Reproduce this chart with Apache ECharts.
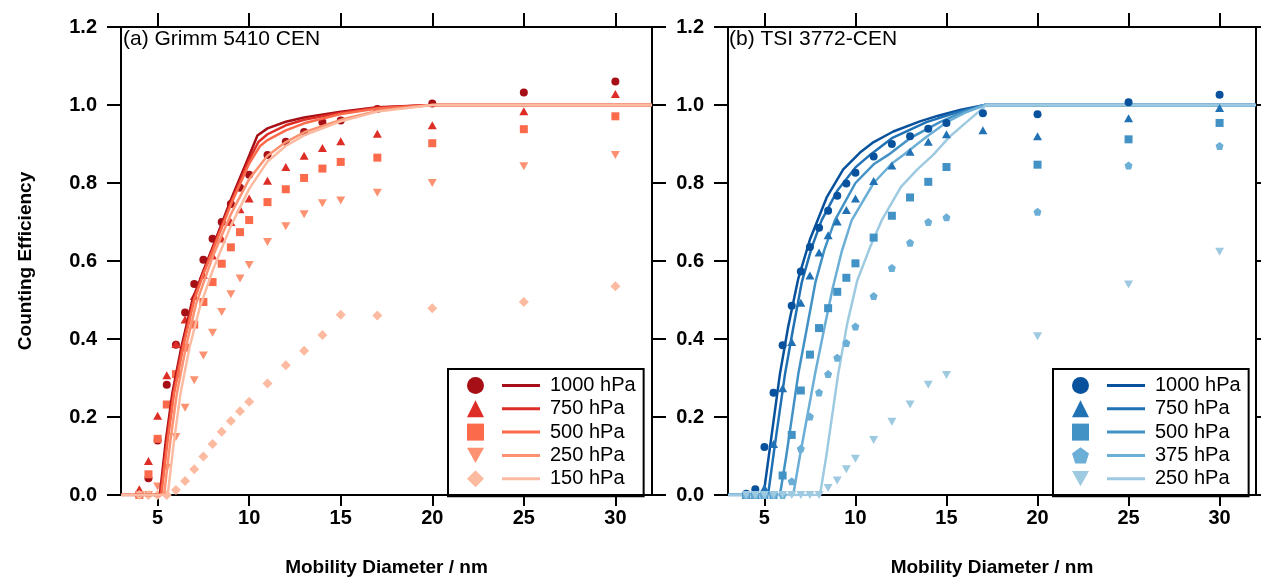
<!DOCTYPE html>
<html>
<head>
<meta charset="utf-8">
<script src="https://cdn.jsdelivr.net/npm/echarts@6/dist/echarts.min.js"></script>
<style>
html, body { margin: 0; padding: 0; background: #fff; }
#chart { width: 1261px; height: 582px; }
</style>
</head>
<body>
<div id="chart"></div>
<script>
// measured diameters (nm), same list in both panels
var diam = [4, 4.5, 5, 5.5, 6, 6.5, 7, 7.5, 8, 8.5, 9, 9.5, 10, 11, 12, 13, 14, 15, 17, 20, 25, 30];
var xTicks = [5, 10, 15, 20, 25, 30];

// (a) Grimm 5410 CEN, measured efficiencies
var a1000 = [0, 0.043, 0.14, 0.283, 0.385, 0.468, 0.541, 0.603, 0.657, 0.70, 0.746, 0.788, 0.821, 0.872, 0.906, 0.931, 0.956, 0.96, 0.99, 1.004, 1.032, 1.06];
var a750 = [0.015, 0.087, 0.203, 0.307, 0.387, 0.45, 0.51, 0.565, 0.614, 0.658, 0.70, 0.733, 0.76, 0.806, 0.841, 0.87, 0.89, 0.907, 0.926, 0.948, 0.984, 1.028];
var a500 = [0, 0.053, 0.144, 0.232, 0.31, 0.378, 0.437, 0.495, 0.546, 0.593, 0.635, 0.674, 0.705, 0.751, 0.784, 0.813, 0.837, 0.854, 0.865, 0.902, 0.938, 0.971];
var a250 = [0, 0, 0.022, 0.07, 0.149, 0.224, 0.294, 0.358, 0.416, 0.469, 0.515, 0.555, 0.59, 0.649, 0.689, 0.72, 0.748, 0.755, 0.775, 0.80, 0.843, 0.872];
var a150 = [0, 0, 0, 0, 0.013, 0.036, 0.066, 0.099, 0.131, 0.162, 0.19, 0.215, 0.239, 0.286, 0.333, 0.37, 0.41, 0.462, 0.46, 0.479, 0.495, 0.535];

// (b) TSI 3772-CEN, measured efficiencies (null = not measured)
var b1000 = [0.003, 0.015, 0.123, 0.262, 0.384, 0.485, 0.573, 0.636, 0.685, 0.729, 0.767, 0.799, 0.826, 0.868, 0.90, 0.92, 0.939, 0.954, 0.979, 0.976, 1.007, 1.026];
var b750 = [0, 0, 0.018, 0.131, 0.274, 0.392, 0.493, 0.563, 0.622, 0.666, 0.701, 0.731, 0.76, 0.805, 0.845, 0.88, 0.906, 0.925, 0.935, 0.92, 0.966, 0.992];
var b500 = [0, 0, 0, 0, 0.05, 0.154, 0.268, 0.36, 0.428, 0.479, 0.521, 0.557, 0.594, 0.66, 0.716, 0.763, 0.803, 0.841, null, 0.847, 0.912, 0.954];
var b375 = [0, 0, 0, 0, 0, 0.035, 0.119, 0.201, 0.263, 0.31, 0.352, 0.39, 0.432, 0.51, 0.582, 0.647, 0.70, 0.712, null, 0.726, 0.845, 0.895];
var b250 = [0, 0, 0, 0, 0, 0, 0, 0, 0, 0.018, 0.037, 0.066, 0.093, 0.141, 0.188, 0.232, 0.283, 0.308, null, 0.407, 0.54, 0.624];

// fitted curves
var fA1000x = [3, 5.12, 5.45, 5.8, 6.3, 6.9, 7.5, 8, 9, 10, 10.45, 11, 12, 13, 15, 17, 20, 32];
var fA1000y = [0, 0, 0.14, 0.26, 0.38, 0.5, 0.575, 0.635, 0.757, 0.87, 0.922, 0.94, 0.957, 0.968, 0.983, 0.994, 1, 1];
var fA750x = [3, 5.15, 5.5, 5.85, 6.35, 6.95, 7.5, 8, 9, 10, 10.5, 11, 12, 13, 15, 17, 20, 32];
var fA750y = [0, 0, 0.14, 0.26, 0.38, 0.5, 0.57, 0.63, 0.75, 0.86, 0.905, 0.925, 0.948, 0.962, 0.98, 0.993, 1, 1];
var fA500x = [3, 5.2, 5.55, 5.9, 6.4, 7, 7.5, 8, 9, 10, 10.6, 11, 12, 13, 15, 17, 20, 32];
var fA500y = [0, 0, 0.14, 0.26, 0.38, 0.5, 0.567, 0.625, 0.745, 0.85, 0.895, 0.91, 0.935, 0.953, 0.977, 0.991, 1, 1];
var fA250x = [3, 5.35, 5.7, 6.05, 6.55, 7.1, 8, 9, 10, 11, 12, 13, 15, 17, 20, 32];
var fA250y = [0, 0, 0.14, 0.26, 0.38, 0.49, 0.61, 0.72, 0.81, 0.87, 0.905, 0.93, 0.962, 0.985, 1, 1];
var fA150x = [3, 5.55, 5.9, 6.25, 6.75, 7.3, 8, 9, 10, 11, 12, 13, 15, 17, 20, 32];
var fA150y = [0, 0, 0.14, 0.26, 0.38, 0.48, 0.575, 0.69, 0.785, 0.855, 0.895, 0.922, 0.958, 0.983, 1, 1];

var fB1000x = [3, 4.95, 5.3, 5.85, 6.3, 6.86, 7.5, 8.42, 9.33, 10.25, 11, 12.08, 13.54, 14.5, 15.74, 17.1, 32];
var fB1000y = [0, 0, 0.12, 0.31, 0.43, 0.555, 0.655, 0.763, 0.835, 0.878, 0.905, 0.932, 0.958, 0.972, 0.987, 1, 1];
var fB750x = [3, 5.2, 5.55, 6.13, 6.55, 7.05, 7.6, 8.14, 9, 10, 10.8, 12, 13.9, 15.5, 17.1, 32];
var fB750y = [0, 0, 0.12, 0.31, 0.42, 0.545, 0.635, 0.704, 0.78, 0.84, 0.872, 0.915, 0.956, 0.98, 1, 1];
var fB500x = [3, 5.85, 6.2, 6.86, 7.3, 7.8, 8.3, 8.87, 10, 11, 11.8, 13, 14.64, 15.8, 17.1, 32];
var fB500y = [0, 0, 0.1, 0.31, 0.42, 0.545, 0.63, 0.704, 0.8, 0.848, 0.872, 0.915, 0.956, 0.98, 1, 1];
var fB375x = [3, 6.58, 6.95, 7.78, 8.3, 8.75, 9.25, 9.79, 11, 12, 12.63, 13.8, 15.01, 16, 17.1, 32];
var fB375y = [0, 0, 0.1, 0.31, 0.43, 0.53, 0.625, 0.704, 0.8, 0.85, 0.872, 0.915, 0.956, 0.98, 1, 1];
var fB250x = [3, 8.05, 8.4, 9.05, 9.55, 10.1, 10.8, 11.44, 12.5, 13.4, 14.27, 15.2, 16.1, 17.2, 32];
var fB250y = [0, 0, 0.1, 0.31, 0.44, 0.55, 0.635, 0.704, 0.79, 0.835, 0.872, 0.92, 0.956, 1, 1];

var FONT = '"Liberation Sans", Arial, sans-serif';
var SYM_DOWN = 'path://M0,0L10,0L5,9Z';
var SYM_PENTA = 'path://M0,-10L9.51,-3.09L5.88,8.09L-5.88,8.09L-9.51,-3.09Z';

function zip(xs, ys) {
    var out = [];
    for (var i = 0; i < xs.length; ++i) {
        if (ys[i] != null) {
            out.push([xs[i], ys[i]]);
        }
    }
    return out;
}

function scatter(name, idx, ys, sym, size, color) {
    return {
        name: name, type: 'scatter', xAxisIndex: idx * 2, yAxisIndex: idx * 2,
        data: zip(diam, ys), symbol: sym, symbolSize: size,
        itemStyle: { color: color, opacity: 1 }, z: idx == 1 ? 3 : 2, silent: true
    };
}

function fit(name, idx, xs, ys, color) {
    return {
        name: name, type: 'line', xAxisIndex: idx * 2, yAxisIndex: idx * 2,
        data: zip(xs, ys), showSymbol: false, smooth: false,
        lineStyle: { color: color, width: 2.5, join: 'round' }, itemStyle: { color: color },
        z: idx == 1 ? 2 : 3, silent: true
    };
}

var redC = ['#a50f15', '#de2d26', '#fb6a4a', '#fc9272', '#fcbba1'];
var blueC = ['#08519c', '#2171b5', '#4292c6', '#6baed6', '#9ecae1'];
var namesA = ['a|1000 hPa', 'a|750 hPa', 'a|500 hPa', 'a|250 hPa', 'a|150 hPa'];
var namesB = ['b|1000 hPa', 'b|750 hPa', 'b|500 hPa', 'b|375 hPa', 'b|250 hPa'];
var symA = ['circle', 'triangle', 'rect', SYM_DOWN, 'diamond'];
var symB = ['circle', 'triangle', 'rect', SYM_PENTA, SYM_DOWN];
var sizeA = [8, [9, 8], 8, [9, 8], 10];
var sizeB = [8, [9, 8], 8, 8, [9, 8]];

var series = [];
var aVals = [a1000, a750, a500, a250, a150];
var bVals = [b1000, b750, b500, b375, b250];
for (var i = 0; i < 5; ++i) {
    series.push(scatter(namesA[i], 0, aVals[i], symA[i], sizeA[i], redC[i]));
    series.push(scatter(namesB[i], 1, bVals[i], symB[i], sizeB[i], blueC[i]));
}
var fitsA = [[fA1000x, fA1000y], [fA750x, fA750y], [fA500x, fA500y], [fA250x, fA250y], [fA150x, fA150y]];
var fitsB = [[fB1000x, fB1000y], [fB750x, fB750y], [fB500x, fB500y], [fB375x, fB375y], [fB250x, fB250y]];
for (var i = 0; i < 5; ++i) {
    series.push(fit(namesA[i], 0, fitsA[i][0], fitsA[i][1], redC[i]));
    series.push(fit(namesB[i], 1, fitsB[i][0], fitsB[i][1], blueC[i]));
}

var axisLine = { show: true, onZero: false, lineStyle: { color: '#000', width: 2 } };
var tickStyle = { color: '#000', width: 2 };
var labelStyle = { color: '#000', fontSize: 20, fontWeight: 'bold', fontFamily: FONT };
var nameStyle = { color: '#000', fontSize: 19, fontWeight: 'bold', fontFamily: FONT };

function xAxes(grid) {
    return [{
        gridIndex: grid, type: 'value', min: 3, max: 32, position: 'bottom',
        axisLine: axisLine,
        axisTick: { customValues: xTicks, length: 11, lineStyle: tickStyle },
        axisLabel: { customValues: xTicks, margin: 13, textStyle: labelStyle },
        splitLine: { show: false },
        name: 'Mobility Diameter / nm', nameLocation: 'middle', nameGap: 63,
        nameTextStyle: nameStyle
    }, {
        gridIndex: grid, type: 'value', min: 3, max: 32, position: 'top',
        axisLine: axisLine,
        axisTick: { customValues: xTicks, length: 14, lineStyle: tickStyle },
        axisLabel: { show: false },
        splitLine: { show: false }
    }];
}

function yAxes(grid, title) {
    return [{
        gridIndex: grid, type: 'value', min: 0, max: 1.2, interval: 0.2, position: 'left',
        axisLine: axisLine,
        axisTick: { length: 14, lineStyle: tickStyle },
        axisLabel: {
            margin: 24, color: '#000', fontSize: 20, fontWeight: 'bold', fontFamily: FONT,
            formatter: function (v) { return v.toFixed(1); }
        },
        splitLine: { show: false },
        name: title, nameLocation: 'middle', nameGap: 86, nameTextStyle: nameStyle
    }, {
        gridIndex: grid, type: 'value', min: 0, max: 1.2, interval: 0.2, position: 'right',
        axisLine: axisLine,
        axisTick: { length: 14, lineStyle: tickStyle },
        axisLabel: { show: false },
        splitLine: { show: false }
    }];
}

function legends(names, syms, boxLeft) {
    var markerData = [];
    var lineData = [];
    for (var i = 0; i < names.length; ++i) {
        markerData.push({ name: names[i], icon: syms[i] });
        lineData.push({ name: names[i], icon: 'rect' });
    }
    return [{
        // line samples + text, with the frame
        data: lineData, orient: 'vertical', left: boxLeft, top: 369,
        itemWidth: 38, itemHeight: 3, itemGap: 0.3, selectedMode: false,
        padding: [5, 8, 6, 54], borderColor: '#000', borderWidth: 2,
        formatter: function (n) { return n.split('|')[1]; },
        textStyle: { color: '#000', fontSize: 20, lineHeight: 23, fontFamily: FONT, padding: [0, 0, 0, 5] }
    }, {
        // marker samples, text hidden so rows line up
        data: markerData, orient: 'vertical', left: boxLeft + 19, top: 374,
        itemWidth: 17, itemHeight: 17, itemGap: 0.3, selectedMode: false,
        padding: 0, symbolRotate: 0,
        formatter: function (n) { return n.split('|')[1]; },
        textStyle: { color: 'rgba(0,0,0,0)', fontSize: 20, lineHeight: 23, fontFamily: FONT }
    }];
}

var chart = echarts.init(document.getElementById('chart'), null, { renderer: 'canvas' });
chart.setOption({
    animation: false,
    backgroundColor: '#fff',
    textStyle: { fontFamily: FONT },
    title: [
        { text: '(a) Grimm 5410 CEN', left: 118, top: 24, textStyle: { fontSize: 21, fontWeight: 'normal', color: '#000', fontFamily: FONT } },
        { text: '(b) TSI 3772-CEN', left: 724, top: 24, textStyle: { fontSize: 21, fontWeight: 'normal', color: '#000', fontFamily: FONT } }
    ],
    grid: [
        { left: 121, top: 27, width: 531, height: 475 },
        { left: 728, top: 27, width: 528, height: 475 }
    ],
    xAxis: xAxes(0).concat(xAxes(1)),
    yAxis: yAxes(0, 'Counting Efficiency').concat(yAxes(1, '')),
    legend: legends(namesA, symA, 448).concat(legends(namesB, symB, 1053)),
    series: series
});
</script>
</body>
</html>
